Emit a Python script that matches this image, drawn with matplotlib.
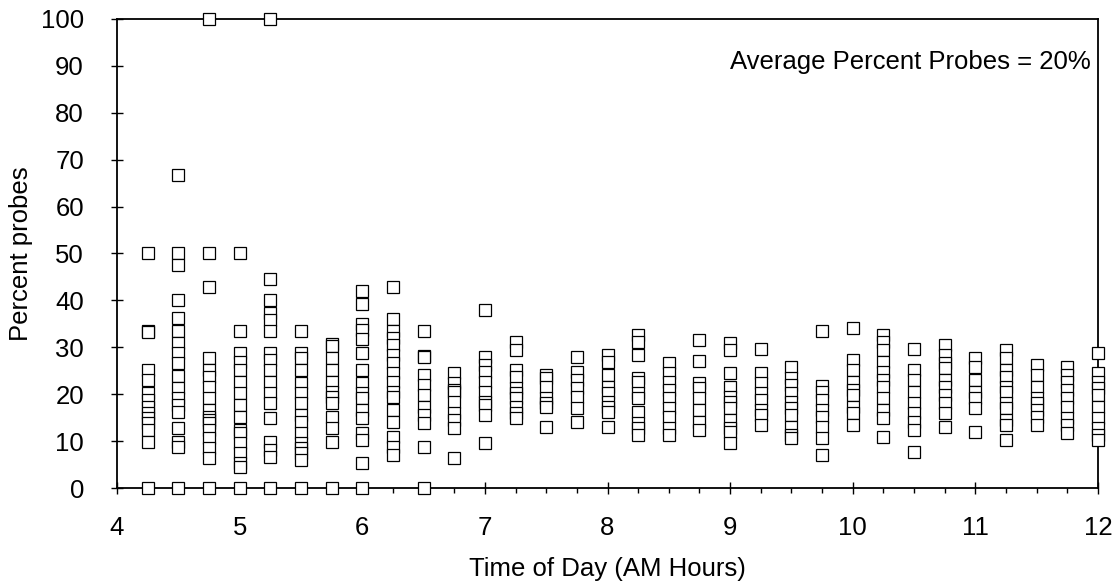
import numpy as np
import matplotlib
matplotlib.use("Agg")
import matplotlib.pyplot as plt
from matplotlib.ticker import MultipleLocator

plt.rcParams['font.family'] = ['Liberation Sans', 'DejaVu Sans']

t0415 = [50, 33.5, 33.3, 25.2, 23, 20.3, 18.8, 17.3, 16, 14.9, 13.9, 12.4, 9.8, 0]
t0430 = [66.7, 50, 47.5, 40, 36.2, 33.5, 31, 28.7, 26.6, 23.9, 21.3, 19.2, 17.7, 16.3, 12.8, 9.9, 8.8, 0]
t0445 = [100, 50, 42.9, 27.7, 25.2, 23.7, 21.5, 19.2, 16.6, 15.1, 14.5, 13.8, 12.4, 10.7, 8.5, 6.4, 0]
t0500 = [50, 33.5, 28.7, 26.9, 25.2, 22.6, 20.3, 17.7, 15.1, 12.4, 11.7, 9.6, 7.5, 5.3, 4.5, 0]
t0515 = [100, 44.6, 40, 37.3, 35.8, 33.5, 28.7, 27.3, 25.2, 22.6, 20.3, 18.1, 14.9, 9.8, 8.1, 6.6, 0]
t0530 = [33.5, 28.7, 27.7, 25.2, 22.4, 20.3, 18.1, 15.6, 14.1, 11.7, 9.6, 8.5, 7.5, 6, 0]
t0545 = [30.8, 30.3, 27.7, 25.2, 22.6, 20.5, 19.4, 18.1, 15.1, 12.8, 9.8, 0]
t0600 = [42, 39.2, 35, 33.7, 31.8, 28.7, 25.2, 22.4, 20.3, 19.2, 16.6, 14.9, 11.7, 10.2, 5.3, 0]
t0615 = [42.9, 36, 33.5, 32, 30.5, 28.4, 26.6, 24.5, 22.6, 20.5, 19.4, 16.6, 14.1, 10.9, 8.8, 7]
t0630 = [33.5, 28.1, 27.9, 24.1, 22, 19.8, 17.3, 15.6, 13.9, 8.8, 0]
t0645 = [24.5, 22.4, 20.9, 20.5, 18.3, 16, 14.5, 12.8, 6.4]
t0700 = [38, 27.9, 26.2, 24.7, 22.6, 20.5, 18.3, 17.7, 15.6, 9.6]
t0715 = [31.1, 29.4, 25.2, 23.7, 21.3, 20.3, 19.2, 17.3, 16, 14.9]
t0730 = [24.1, 23.5, 21.5, 19.2, 18.1, 17.3, 13]
t0745 = [27.9, 24.7, 23, 21.3, 19.4, 17, 14.1]
t0800 = [28.4, 26.9, 24.1, 21.5, 20.3, 18.3, 17.3, 16.3, 13]
t0815 = [32.6, 31.1, 28.4, 23.5, 22.6, 20.3, 19.2, 16.3, 13.9, 12.8, 11.3]
t0830 = [26.6, 24.5, 22.6, 20.9, 19.2, 17, 15.1, 12.8, 11.3]
t0845 = [31.6, 27.1, 22.4, 21.3, 19.2, 16.6, 14.1, 12.4]
t0900 = [30.9, 29.4, 24.5, 21.5, 19.4, 18.3, 17, 14.5, 12.8, 11.9, 9.6]
t0915 = [29.6, 24.5, 22.4, 20.3, 18.8, 16.6, 15.6, 13.4]
t0930 = [25.8, 23.5, 22, 20.3, 18.3, 17, 15.6, 13, 11.3, 10.7]
t0945 = [33.5, 21.7, 20.5, 18.8, 16.6, 15.1, 13, 10.7, 7]
t1000 = [34.1, 27.3, 25.2, 22.6, 20.9, 19.8, 17.3, 16, 13.4]
t1015 = [32.6, 31.1, 29.4, 26.9, 24.7, 23, 21.5, 19.2, 16.6, 14.9, 10.9]
t1030 = [29.6, 25.2, 23, 20.5, 18.1, 16, 14.1, 12.4, 7.7]
t1045 = [30.5, 28.4, 26.6, 25.6, 23, 21.5, 19.8, 18.1, 16, 13]
t1100 = [27.7, 25.8, 23, 20.5, 19.2, 17, 11.9]
t1115 = [29.4, 27.7, 25.2, 23.7, 21.5, 20.5, 18.1, 17, 14.5, 13.4, 10.2]
t1130 = [26.2, 24.1, 21.5, 19.2, 18.1, 16.6, 15.1, 13.4]
t1145 = [25.8, 24.1, 22.6, 20.9, 19.2, 17.3, 14.9, 13.4, 11.7]
t1200 = [28.7, 24.5, 22.6, 21.3, 19.8, 17.3, 14.9, 12.8, 11.3, 10.2]

slot_hours = np.arange(4.25, 12.01, 0.25)
slot_values = [t0415, t0430, t0445, t0500, t0515, t0530, t0545, t0600,
               t0615, t0630, t0645, t0700, t0715, t0730, t0745, t0800,
               t0815, t0830, t0845, t0900, t0915, t0930, t0945, t1000,
               t1015, t1030, t1045, t1100, t1115, t1130, t1145, t1200]

x = []
y = []
for h, vals in zip(slot_hours, slot_values):
    x += [h] * len(vals)
    y += vals

fig = plt.figure(figsize=(11.12, 5.87), dpi=100)
ax = fig.add_axes([117 / 1112, 1 - 488 / 587, 981 / 1112, 469 / 587])

ax.plot(x, y, linestyle='none', marker='s', markersize=8.6,
        markerfacecolor='white', markeredgecolor='black', markeredgewidth=0.9,
        clip_on=False, zorder=5)

ax.set_xlim(4, 12)
ax.set_ylim(0, 100)
ax.xaxis.set_major_locator(MultipleLocator(1))
ax.xaxis.set_minor_locator(MultipleLocator(0.25))
ax.yaxis.set_major_locator(MultipleLocator(10))

for s in ax.spines.values():
    s.set_linewidth(1.3)

ax.tick_params(axis='both', which='major', direction='inout', length=8.6,
               width=1.0, labelsize=18.5)
ax.tick_params(axis='x', which='minor', direction='out', length=3.8, width=1.0)
ax.tick_params(axis='x', which='major', pad=16)
ax.tick_params(axis='y', which='major', pad=19.5)

ax.set_xlabel('Time of Day (AM Hours)', fontsize=18.5, labelpad=12)
ax.set_ylabel('Percent probes', fontsize=18.5)
ax.yaxis.set_label_coords(-0.086, 0.5)

ax.text(0.993, 0.908, 'Average Percent Probes = 20%', transform=ax.transAxes,
        ha='right', va='center', fontsize=18.5)

fig.savefig('out.png', dpi=100)
